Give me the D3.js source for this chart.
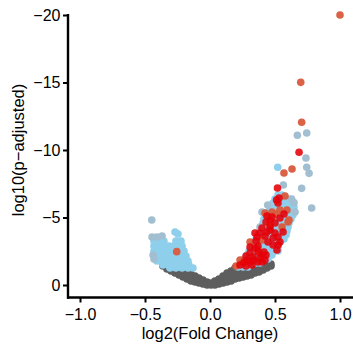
<!DOCTYPE html>
<html><head><meta charset="utf-8">
<script src="https://cdn.jsdelivr.net/npm/d3@7"></script>
<style>
body{margin:0;background:#fff}
svg{display:block}
text{font-family:"Liberation Sans",Arial,sans-serif}
</style>
</head><body>
<svg id="c" width="353" height="344"></svg>
<script>
const xTicks=[-1,-0.5,0,0.5,1];
const yTicks=[-20,-15,-10,-5,0];
const xTitle="log2(Fold Change)";
const yTitle="log10(p\u2212adjusted)";

// not significant (gray)
const grayPts=[
[-0.362,-1.41],
[-0.331,-1.33],[-0.331,-1.19],
[-0.300,-1.26],[-0.300,-1.04],
[-0.269,-1.19],[-0.269,-1.04],[-0.269,-0.89],
[-0.238,-1.11],[-0.238,-0.89],[-0.238,-0.74],
[-0.208,-1.04],[-0.208,-0.81],[-0.208,-0.59],
[-0.177,-0.96],[-0.177,-0.74],[-0.177,-0.59],[-0.177,-0.44],
[-0.146,-0.81],[-0.146,-0.59],[-0.146,-0.44],[-0.146,-0.30],
[-0.115,-0.67],[-0.115,-0.52],[-0.115,-0.37],[-0.115,-0.22],
[-0.085,-0.52],[-0.085,-0.37],[-0.085,-0.22],[-0.085,-0.15],
[-0.054,-0.37],[-0.054,-0.22],[-0.054,-0.07],
[-0.023,-0.22],[-0.023,-0.07],[-0.023,0],
[0.008,-0.15],[0.008,0],
[0.038,-0.30],[0.038,-0.15],[0.038,0],
[0.069,-0.44],[0.069,-0.22],[0.069,-0.07],
[0.100,-0.67],[0.100,-0.44],[0.100,-0.30],[0.100,-0.15],
[0.131,-0.89],[0.131,-0.67],[0.131,-0.44],[0.131,-0.22],
[0.162,-1.04],[0.162,-0.81],[0.162,-0.59],[0.162,-0.44],[0.162,-0.30],
[0.192,-1.26],[0.192,-1.04],[0.192,-0.81],[0.192,-0.59],[0.192,-0.44],
[0.223,-1.41],[0.223,-1.19],[0.223,-0.96],[0.223,-0.74],[0.223,-0.52],
[0.254,-1.48],[0.254,-1.26],[0.254,-1.04],[0.254,-0.81],[0.254,-0.59],
[0.285,-1.56],[0.285,-1.33],[0.285,-1.11],[0.285,-0.89],[0.285,-0.67],
[0.315,-1.56],[0.315,-1.33],[0.315,-1.11],[0.315,-0.89],[0.315,-0.74],
[0.346,-1.56],[0.346,-1.33],[0.346,-1.11],[0.346,-0.89],
[0.377,-1.56],[0.377,-1.33],[0.377,-1.11],[0.377,-0.96],
[0.408,-1.56],[0.408,-1.33],[0.408,-1.11],
[0.438,-1.56],[0.438,-1.41],[0.438,-1.26],
[0.469,-1.56],[0.469,-1.41]
];

// significant (sky blue)
const skyPts=[
[-0.431,-3.26],[-0.392,-3.26],[-0.354,-3.26],[-0.262,-3.26],[-0.223,-3.26],
[-0.269,-3.93],[-0.246,-3.78],
[-0.431,-2.89],[-0.392,-2.89],[-0.354,-2.89],[-0.315,-2.89],[-0.277,-2.89],[-0.238,-2.89],[-0.215,-2.89],
[-0.431,-2.52],[-0.392,-2.52],[-0.354,-2.52],[-0.315,-2.52],[-0.277,-2.52],[-0.238,-2.52],[-0.200,-2.52],
[-0.408,-2.15],[-0.369,-2.15],[-0.331,-2.15],[-0.292,-2.15],[-0.254,-2.15],[-0.215,-2.15],[-0.185,-2.15],
[-0.408,-1.78],[-0.369,-1.78],[-0.331,-1.78],[-0.292,-1.78],[-0.254,-1.78],[-0.215,-1.78],[-0.169,-1.78],
[-0.362,-1.48],[-0.323,-1.48],[-0.285,-1.48],[-0.246,-1.48],[-0.208,-1.48],[-0.162,-1.48],
[-0.308,-1.26],[-0.262,-1.26],[-0.215,-1.26],[-0.169,-1.26],[-0.131,-1.26],
[0.215,-1.33],[0.254,-1.33],[0.292,-1.33],
[0.238,-1.63],[0.277,-1.63],[0.315,-1.63],[0.354,-1.63],[0.385,-1.63],
[0.262,-1.93],[0.300,-1.93],[0.338,-1.93],[0.377,-1.93],[0.415,-1.93],[0.446,-1.93],
[0.285,-2.22],[0.323,-2.22],[0.362,-2.22],[0.400,-2.22],[0.438,-2.22],[0.477,-2.22],
[0.300,-2.52],[0.338,-2.52],[0.377,-2.52],[0.454,-2.52],[0.492,-2.52],[0.523,-2.52],
[0.323,-2.81],[0.362,-2.81],[0.400,-2.81],[0.438,-2.81],[0.477,-2.81],[0.523,-2.81],
[0.338,-3.11],[0.377,-3.11],[0.415,-3.11],[0.454,-3.11],[0.492,-3.11],[0.531,-3.11],
[0.354,-3.41],[0.392,-3.41],[0.431,-3.41],[0.469,-3.41],[0.508,-3.41],[0.538,-3.41],[0.569,-3.41],
[0.369,-3.70],[0.408,-3.70],[0.446,-3.70],[0.485,-3.70],[0.523,-3.70],[0.554,-3.70],[0.585,-3.70],
[0.385,-4.00],[0.423,-4.00],[0.462,-4.00],[0.500,-4.00],[0.538,-4.00],[0.569,-4.00],[0.592,-4.00],
[0.392,-4.30],[0.431,-4.30],[0.469,-4.30],[0.508,-4.30],[0.546,-4.30],[0.577,-4.30],[0.600,-4.30],
[0.408,-4.59],[0.446,-4.59],[0.485,-4.59],[0.523,-4.59],[0.562,-4.59],[0.608,-4.59],
[0.415,-4.89],[0.454,-4.89],[0.531,-4.89],[0.569,-4.89],[0.600,-4.89],[0.623,-4.89],
[0.431,-5.19],[0.469,-5.19],[0.508,-5.19],[0.546,-5.19],[0.585,-5.19],[0.615,-5.19],[0.638,-5.19],
[0.454,-5.48],[0.492,-5.48],[0.531,-5.48],[0.569,-5.48],[0.608,-5.48],[0.646,-5.48],
[0.469,-5.78],[0.508,-5.78],[0.546,-5.78],[0.585,-5.78],[0.615,-5.78],[0.646,-5.78],
[0.485,-6.07],[0.523,-6.07],[0.562,-6.07],[0.600,-6.07],[0.638,-6.07],
[0.500,-6.37],[0.538,-6.37],[0.577,-6.37],[0.608,-6.37],
[0.523,-6.67],[0.554,-6.67],
[0.521,-8.72]
];

// significant, isolated (grey-blue)
const steelPts=[
[-0.448,-4.81],[-0.446,-3.56],[-0.408,-3.56],[-0.369,-3.63],[-0.438,-2.22],[-0.431,-1.93],
[0.672,-11.09],[0.744,-11.26],[0.738,-9.41],[0.744,-8.72],[0.762,-8.27],
[0.564,-7.41],[0.705,-7.16],[0.646,-6.10],[0.628,-6.37],[0.654,-5.41],[0.782,-5.70],
[0.400,-5.41],[0.385,-4.30],[0.444,-5.93]
];

// highlighted genes (orange-red)
const orangePts=[
[1.000,-20.0],[0.698,-15.01],[0.705,-12.05],[0.631,-8.59],[0.569,-8.30],
[0.577,-6.59],[0.608,-4.81],[0.423,-5.33],[0.477,-5.41],[0.554,-4.30],[0.600,-4.67],
[0.308,-3.19],[0.400,-3.33],[0.231,-1.85],[0.254,-1.63],[0.538,-5.56],
[0.508,-5.26],[0.462,-4.44],[0.369,-2.59],[0.200,-1.41],[0.592,-5.56],
[-0.256,-2.47]
];

// highlighted genes (red)
const redPts=[
[0.685,-9.83],[0.519,-7.19],[0.512,-6.30],[0.531,-6.44],[0.523,-6.07],
[0.462,-4.81],[0.500,-4.59],[0.438,-5.11],
[0.346,-3.85],[0.385,-3.85],[0.362,-3.56],[0.462,-4.07],[0.500,-3.85],[0.523,-3.56],[0.538,-3.19],
[0.462,-4.30],[0.562,-3.93],
[0.308,-2.81],[0.346,-2.74],[0.369,-2.44],[0.308,-2.37],[0.331,-2.07],[0.400,-2.22],[0.423,-1.85],
[0.285,-1.85],[0.369,-1.70],[0.385,-2.00],[0.415,-2.44],
[0.515,-2.59],[0.523,-2.96],[0.485,-2.96],
[0.231,-1.48],[0.277,-1.41],[0.323,-1.48],
[0.338,-1.85],[0.400,-1.70],[0.431,-2.22],[0.369,-2.89],[0.277,-2.15],[0.262,-1.70],[0.308,-1.70],
[0.431,-4.67],[0.477,-5.04],[0.538,-4.96],[0.569,-5.26],
[0.354,-3.26],[0.423,-3.63],[0.446,-3.19],[0.485,-3.48],[0.400,-4.22],[0.438,-3.93]
];

const svg=d3.select("#c");
const x=d3.scaleLinear().domain([-1.1,1.1]).range([67,353]);
const y=d3.scaleLinear().domain([0,-20]).range([285,15]);
const R=3.8;

function layer(pts,color,op){
  svg.append("g").selectAll("circle").data(pts).join("circle")
    .attr("cx",d=>x(d[0])).attr("cy",d=>y(d[1])).attr("r",R)
    .attr("fill",color).attr("fill-opacity",op);
}
layer(grayPts,"#5e5e5e",1);
layer(skyPts,"#8ecfec",1);
layer(steelPts,"#a2bfd1",1);
layer(orangePts,"#d95a3c",0.95);
layer(redPts,"#e60008",0.88);

const fmt=d3.format(".1f");
const gx=svg.append("g").attr("transform","translate(0,297.5)")
  .call(d3.axisBottom(x).tickValues(xTicks).tickFormat(fmt).tickSize(5).tickPadding(6));
const gy=svg.append("g").attr("transform","translate(68,0)")
  .call(d3.axisLeft(y).tickValues(yTicks).tickFormat(d3.format("d")).tickSize(5).tickPadding(2.5));
[gx,gy].forEach(g=>{
  g.select(".domain").remove();
  g.selectAll(".tick line").attr("stroke","#000").attr("stroke-width",2);
  g.selectAll(".tick text").attr("fill","#000").style("font-size","16px")
   .style("font-family","'Liberation Sans',Arial,sans-serif");
});
svg.append("line").attr("x1",67).attr("x2",353).attr("y1",297.5).attr("y2",297.5)
  .attr("stroke","#000").attr("stroke-width",2.4);
svg.append("line").attr("x1",68).attr("x2",68).attr("y1",14).attr("y2",298.7)
  .attr("stroke","#000").attr("stroke-width",2.4);

svg.append("text").attr("x",210).attr("y",338.5).attr("text-anchor","middle")
  .style("font-size","16.5px").attr("fill","#000").text(xTitle);
svg.append("text").attr("transform","translate(24,150) rotate(-90)").attr("text-anchor","middle")
  .style("font-size","16.5px").attr("fill","#000").text(yTitle);
</script>
</body></html>
